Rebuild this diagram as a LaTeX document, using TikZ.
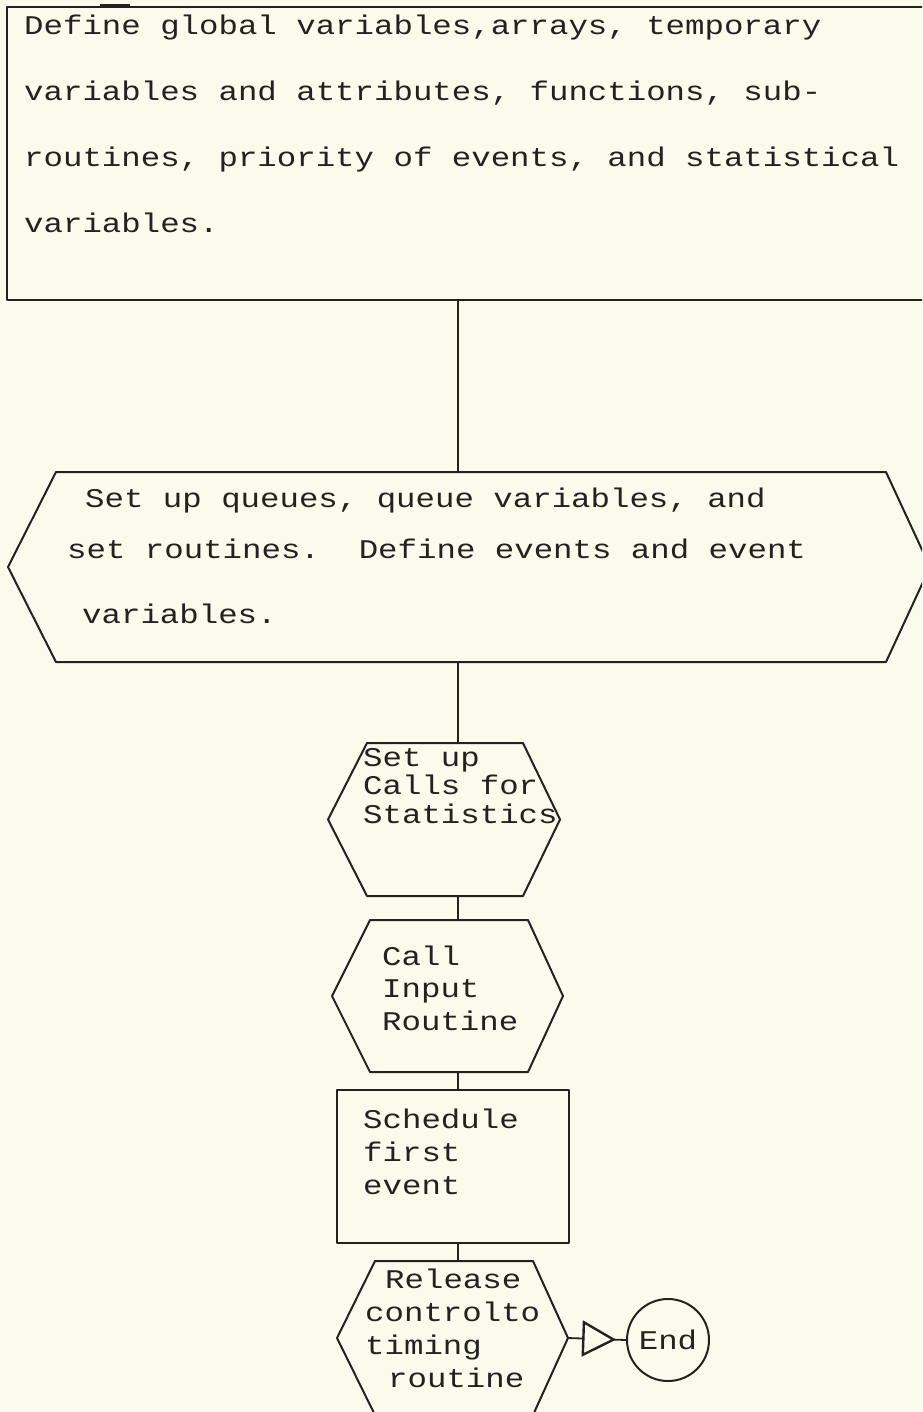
\documentclass[tikz,border=0pt]{standalone}
\usepackage{fontspec}
\newfontfamily\typewriter[FakeStretch=1.2]{Liberation Mono}
\usetikzlibrary{calc,arrows.meta,decorations.markings}
\definecolor{paper}{RGB}{251,251,236}
\definecolor{ink}{RGB}{34,34,34}
\begin{document}
\begin{tikzpicture}[x=1pt,y=-1pt,
  outline/.style={draw=ink,line width=2pt,line join=round},
  body/.style={inner sep=0pt,outer sep=0pt,draw=none},
  link/.style={draw=ink,line width=1.8pt},
  txt/.style={anchor=north west,inner sep=0pt,align=left,text=ink,
    font={\typewriter\fontsize{27}{#1}\selectfont\lineskiplimit=-100pt\frenchspacing}},
]
\useasboundingbox (0,0) rectangle (922,1412);
\fill[paper] (0,0) rectangle (922,1412);
\clip (0,0) rectangle (922,1412);

% declarations box (open to the right)
\node[body,anchor=north west,minimum width=940pt,minimum height=293pt] (defs) at (7,7) {};
\draw[outline] (defs.north east) -- (defs.north west) -- (defs.south west) -- (defs.south east);
\draw[ink,line width=3.4pt] ([shift={(93pt,1pt)}]defs.north west) -- ([shift={(123pt,1pt)}]defs.north west);
\node[txt=66] (defs text) at (24,9) {\rule{0pt}{25pt}Define global variables,arrays, temporary\\variables and attributes, functions, sub-\\routines, priority of events, and statistical\\variables.};

% queues and events
\node[body,minimum width=830pt,minimum height=190pt] (queues) at (471,567) {};
\draw[outline] (queues.north west) -- (queues.north east) -- ($(queues.east)+(44,0)$) -- (queues.south east) -- (queues.south west) -- ($(queues.west)+(-48,0)$) -- cycle;
\node[txt=51] (queues text) at (67,482) {\rule{0pt}{25pt}\hspace*{18pt}Set up queues, queue variables, and\\set routines.~~Define events and event\\[14pt]\hspace*{15pt}variables.};

% statistics calls
\node[body,minimum width=156pt,minimum height=153pt] (stats) at (445,819.5) {};
\draw[outline] (stats.north west) -- (stats.north east) -- ($(stats.east)+(37,0)$) -- (stats.south east) -- (stats.south west) -- ($(stats.west)+(-39,0)$) -- cycle;
\node[txt=28.5] (stats text) at (363,741) {\rule{0pt}{25pt}Set up\\Calls for\\Statistics};

% input routine
\node[body,minimum width=158pt,minimum height=152pt] (input) at (449,996) {};
\draw[outline] (input.north west) -- (input.north east) -- ($(input.east)+(35,0)$) -- (input.south east) -- (input.south west) -- ($(input.west)+(-38,0)$) -- cycle;
\node[txt=32.5] (input text) at (382,940) {\rule{0pt}{25pt}Call\\Input\\Routine};

% first event
\node[outline,inner sep=0pt,minimum width=232pt,minimum height=153pt] (sched) at (453,1166.5) {};
\node[txt=33] (sched text) at (363,1103) {\rule{0pt}{25pt}Schedule\\first\\event};

% hand over to timing routine
\node[body,minimum width=158pt,minimum height=154pt] (release) at (454,1338) {};
\draw[outline] (release.north west) -- (release.north east) -- ($(release.east)+(35,0)$) coordinate (release tip) -- (release.south east) -- (release.south west) -- ($(release.west)+(-38,0)$) -- cycle;
\node[txt=33] (release text) at (365,1263) {\rule{0pt}{25pt}\hspace*{20pt}Release\\controlto\\timing\\\hspace*{23pt}routine};

% terminal
\node[circle,outline,minimum size=82pt,inner sep=0pt,text=ink,
  font=\typewriter\fontsize{27}{33}\selectfont] (stop) at (668,1340) {End};

% flow lines
\coordinate (spine) at (458,0);
\draw[link] (spine |- defs.south) -- (spine |- queues.north);
\draw[link] (spine |- queues.south) -- (spine |- stats.north);
\draw[link] (spine |- stats.south) -- (spine |- input.north);
\draw[link] (spine |- input.south) -- (spine |- sched.north);
\draw[link] (spine |- sched.south) -- (spine |- release.north);
\draw[link,postaction={decorate},
  decoration={markings,mark=at position 0.83 with
    {\arrow{Triangle[fill=paper,length=34pt,width=36pt,line width=2.4pt]}}}]
  (release tip) -- (stop.west);
\end{tikzpicture}
\end{document}
